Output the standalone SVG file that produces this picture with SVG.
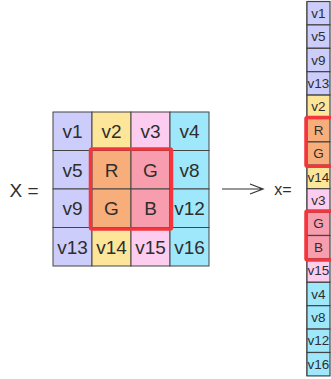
<svg xmlns="http://www.w3.org/2000/svg" width="331" height="379" viewBox="0 0 331 379">
<style>
text{font-family:"Liberation Sans",Arial,sans-serif;fill:#2e2e2e;text-anchor:middle;dominant-baseline:central}
.g text{font-size:19px}
.c text{font-size:13.5px}
.cell{stroke:#444;stroke-width:1}
.ccell{stroke:#444;stroke-width:1.2}
.lav{fill:#cccdfa}.yel{fill:#fde69a}.pnk{fill:#fdcdf0}.cyn{fill:#9fe8fb}.org{fill:#f8ae7b}.red{fill:#f89dae}
.hl{fill:none;stroke:#f2363c;stroke-width:3.5}
</style>
<text x="24" y="190" style="font-size:19px">X =</text>
<g id="grid" class="g">
<g id="v1"><rect class="cell lav" x="53" y="112" width="39" height="38.5"/><text x="72.5" y="131.5">v1</text></g>
<g id="v2"><rect class="cell yel" x="92" y="112" width="39" height="38.5"/><text x="111.5" y="131.5">v2</text></g>
<g id="v3"><rect class="cell pnk" x="131" y="112" width="39" height="38.5"/><text x="150.5" y="131.5">v3</text></g>
<g id="v4"><rect class="cell cyn" x="170" y="112" width="39" height="38.5"/><text x="189.5" y="131.5">v4</text></g>
<g id="v5"><rect class="cell lav" x="53" y="150.5" width="39" height="38.5"/><text x="72.5" y="170">v5</text></g>
<g id="R1"><rect class="cell org" x="92" y="150.5" width="39" height="38.5"/><text x="111.5" y="170">R</text></g>
<g id="G1"><rect class="cell red" x="131" y="150.5" width="39" height="38.5"/><text x="150.5" y="170">G</text></g>
<g id="v8"><rect class="cell cyn" x="170" y="150.5" width="39" height="38.5"/><text x="189.5" y="170">v8</text></g>
<g id="v9"><rect class="cell lav" x="53" y="189" width="39" height="38.5"/><text x="72.5" y="208.5">v9</text></g>
<g id="G2"><rect class="cell org" x="92" y="189" width="39" height="38.5"/><text x="111.5" y="208.5">G</text></g>
<g id="B1"><rect class="cell red" x="131" y="189" width="39" height="38.5"/><text x="150.5" y="208.5">B</text></g>
<g id="v12"><rect class="cell cyn" x="170" y="189" width="39" height="38.5"/><text x="189.5" y="208.5">v12</text></g>
<g id="v13"><rect class="cell lav" x="53" y="227.5" width="39" height="38.5"/><text x="72.5" y="247">v13</text></g>
<g id="v14"><rect class="cell yel" x="92" y="227.5" width="39" height="38.5"/><text x="111.5" y="247">v14</text></g>
<g id="v15"><rect class="cell pnk" x="131" y="227.5" width="39" height="38.5"/><text x="150.5" y="247">v15</text></g>
<g id="v16"><rect class="cell cyn" x="170" y="227.5" width="39" height="38.5"/><text x="189.5" y="247">v16</text></g>
<rect class="hl" x="90.5" y="149" width="81" height="80" rx="1.5"/>
</g>
<g id="connectors" fill="none" stroke="#333" stroke-width="1.2">
<path d="M222 189H263M250 184L263 189L250 194"/>
</g>
<text x="283" y="189" style="font-size:16px">x=</text>
<g id="column" class="c">
<line x1="307" y1="1.5" x2="307" y2="376" stroke="#888" stroke-width="2"/>
<g id="c1"><rect class="ccell lav" x="307" y="1.5" width="23" height="23.4"/><text x="318.5" y="13.2">v1</text></g>
<g id="c2"><rect class="ccell lav" x="307" y="24.9" width="23" height="23.4"/><text x="318.5" y="36.6">v5</text></g>
<g id="c3"><rect class="ccell lav" x="307" y="48.3" width="23" height="23.4"/><text x="318.5" y="60">v9</text></g>
<g id="c4"><rect class="ccell lav" x="307" y="71.7" width="23" height="23.4"/><text x="318.5" y="83.4">v13</text></g>
<g id="c5"><rect class="ccell yel" x="307" y="95.1" width="23" height="23.4"/><text x="318.5" y="106.8">v2</text></g>
<g id="c6"><rect class="ccell org" x="307" y="118.5" width="23" height="23.4"/><text x="318.5" y="130.2">R</text></g>
<g id="c7"><rect class="ccell org" x="307" y="141.9" width="23" height="23.4"/><text x="318.5" y="153.6">G</text></g>
<g id="c8"><rect class="ccell yel" x="307" y="165.3" width="23" height="23.4"/><text x="318.5" y="177">v14</text></g>
<g id="c9"><rect class="ccell pnk" x="307" y="188.7" width="23" height="23.4"/><text x="318.5" y="200.4">v3</text></g>
<g id="c10"><rect class="ccell red" x="307" y="212.1" width="23" height="23.4"/><text x="318.5" y="223.8">G</text></g>
<g id="c11"><rect class="ccell red" x="307" y="235.5" width="23" height="23.4"/><text x="318.5" y="247.2">B</text></g>
<g id="c12"><rect class="ccell pnk" x="307" y="258.9" width="23" height="23.4"/><text x="318.5" y="270.6">v15</text></g>
<g id="c13"><rect class="ccell cyn" x="307" y="282.3" width="23" height="23.4"/><text x="318.5" y="294">v4</text></g>
<g id="c14"><rect class="ccell cyn" x="307" y="305.7" width="23" height="23.4"/><text x="318.5" y="317.4">v8</text></g>
<g id="c15"><rect class="ccell cyn" x="307" y="329.1" width="23" height="23.4"/><text x="318.5" y="340.8">v12</text></g>
<g id="c16"><rect class="ccell cyn" x="307" y="352.5" width="23" height="23.4"/><text x="318.5" y="364.2">v16</text></g>
<rect class="hl" x="306" y="117.5" width="27" height="48.8" rx="1.5"/>
<rect class="hl" x="306" y="211.1" width="27" height="48.8" rx="1.5"/>
</g>
</svg>
